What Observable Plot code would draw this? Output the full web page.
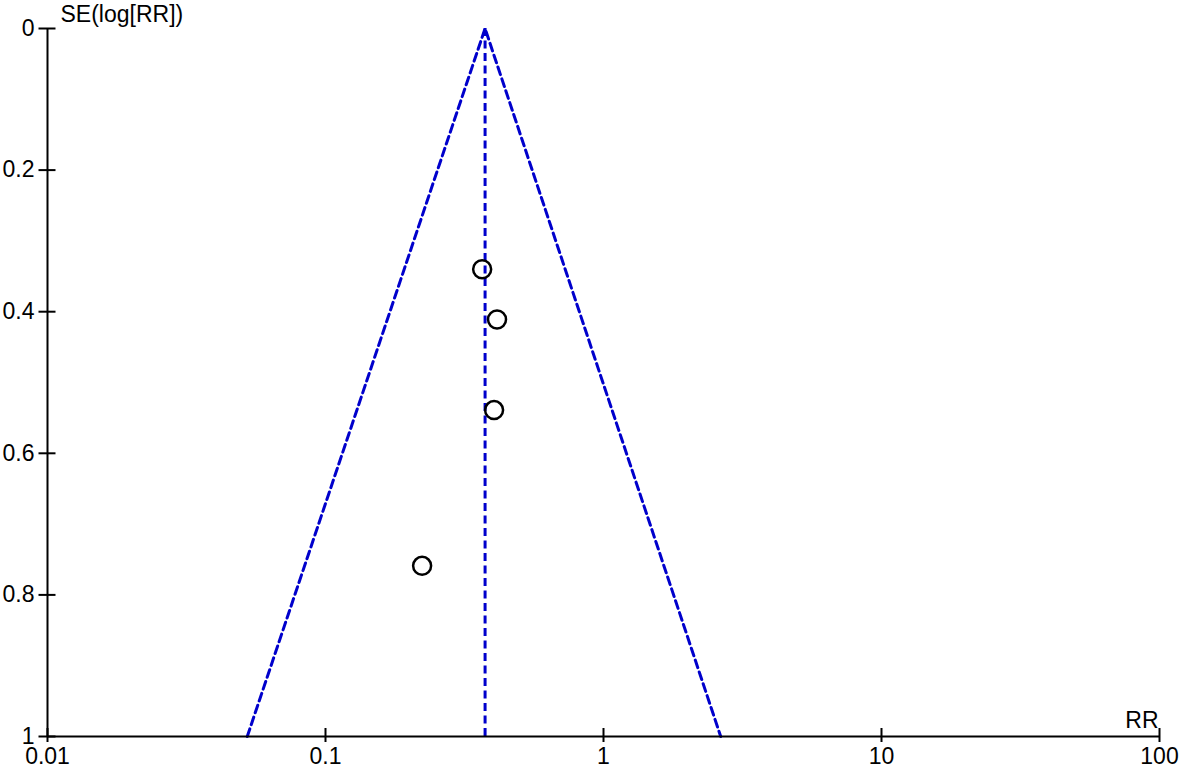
<!DOCTYPE html>
<html>
<head>
<meta charset="utf-8">
<script src="https://cdn.jsdelivr.net/npm/d3@7"></script>
<script src="https://cdn.jsdelivr.net/npm/@observablehq/plot@0.6"></script>
<style>
  html, body { margin: 0; padding: 0; background: #ffffff; }
  #chart svg { display: block; }
</style>
</head>
<body>
<div id="chart"></div>
<script>
// Studies (RR, SE of log RR)
const studyRR = [0.366, 0.414, 0.404, 0.2226];
const studySE = [0.340, 0.411, 0.539, 0.759];

// Pooled estimate and funnel (pseudo 95% CI) limits
const pooledRR = 0.375;
const funnelRR = [0.0523, 0.375, 2.64];
const funnelSE = [1, 0, 1];

// Axis ticks
const xTicks = [0.01, 0.1, 1, 10, 100];
const yTicks = [0, 0.2, 0.4, 0.6, 0.8, 1];
const xTickLabels = ["0.01", "0.1", "1", "10", "100"];
const yTickLabels = ["0", "0.2", "0.4", "0.6", "0.8", "1"];

const studies = studyRR.map((rr, i) => ({rr, se: studySE[i]}));
const funnel = funnelRR.map((rr, i) => ({rr, se: funnelSE[i]}));

const blue = "#0000cc";
const font = "Liberation Sans, Arial, sans-serif";

const chart = Plot.plot({
  width: 1181,
  height: 768,
  marginLeft: 47,
  marginRight: 22,
  marginTop: 28,
  marginBottom: 32,
  style: {fontFamily: font, fontSize: "23px", background: "#ffffff", color: "#000"},
  x: {type: "log", domain: [0.01, 100]},
  y: {domain: [0, 1], reverse: true},
  marks: [
    // funnel
    Plot.line(funnel, {x: "rr", y: "se", stroke: blue, strokeWidth: 3, strokeDasharray: "8,4.5"}),
    Plot.ruleX([pooledRR], {y1: 0, y2: 1, stroke: blue, strokeWidth: 3, strokeDasharray: "8,4.5"}),
    // axis lines
    Plot.ruleX([0.01], {y1: 0, y2: 1, stroke: "#000", strokeWidth: 2}),
    Plot.ruleY([1], {x1: 0.01, x2: 100, stroke: "#000", strokeWidth: 2}),
    // crossing ticks
    Plot.axisX({ticks: xTicks, tickSize: 14, dy: -8, text: null, label: null, strokeWidth: 2, stroke: "#000"}),
    Plot.axisY({ticks: yTicks, tickSize: 17, dx: 8.5, text: null, label: null, strokeWidth: 2, stroke: "#000"}),
    // tick labels
    Plot.axisX({ticks: xTicks, tickSize: 0, tickPadding: 11, label: null, tickFormat: (d) => xTickLabels[xTicks.indexOf(d)], fontSize: 23, fill: "#000"}),
    Plot.axisY({ticks: yTicks, tickSize: 0, tickPadding: 13, label: null, tickFormat: (d) => yTickLabels[yTicks.indexOf(d)], fontSize: 23, fill: "#000"}),
    // axis titles
    Plot.text(["SE(log[RR])"], {frameAnchor: "top-left", text: (d) => d, textAnchor: "start", lineAnchor: "bottom", dx: 13, dy: -7, fontSize: 23, fill: "#000"}),
    Plot.text(["RR"], {frameAnchor: "bottom-right", text: (d) => d, textAnchor: "end", lineAnchor: "bottom", dx: -1, dy: -9, fontSize: 23, fill: "#000"}),
    // studies
    Plot.dot(studies, {x: "rr", y: "se", r: 9, stroke: "#000", strokeWidth: 2.5, fill: "none"})
  ]
});

document.getElementById("chart").appendChild(chart);
</script>
</body>
</html>
